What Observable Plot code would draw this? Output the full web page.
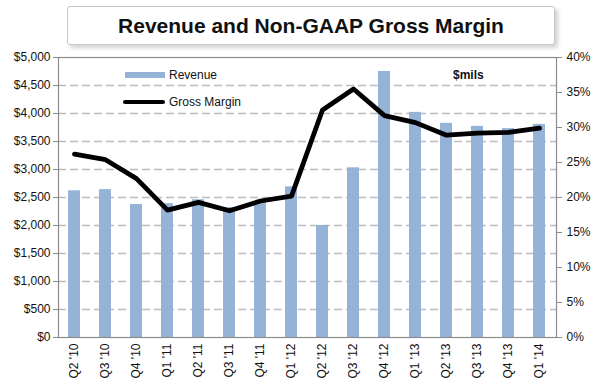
<!DOCTYPE html>
<html>
<head>
<meta charset="utf-8">
<script src="https://cdn.jsdelivr.net/npm/d3@7"></script>
<script src="https://cdn.jsdelivr.net/npm/@observablehq/plot@0.6"></script>
<style>
  html, body { margin: 0; padding: 0; background: #fff; }
  body { width: 600px; height: 388px; position: relative; overflow: hidden;
         font-family: "Liberation Sans", Arial, sans-serif; }
  #title { position: absolute; left: 67px; top: 6px; width: 488px; height: 39px;
           border: 1px solid #c8c8c8; border-radius: 3px; background: #fff;
           box-shadow: 3px 3px 4px rgba(0,0,0,0.18);
           display: flex; align-items: center; justify-content: center;
           font-weight: bold; font-size: 21px; color: #111; box-sizing: border-box; }
  #chart { position: absolute; left: 0; top: 50px; }
  .leg { position: absolute; font-size: 12px; color: #111; line-height: 12px; }
</style>
</head>
<body>
<div id="title">Revenue and Non-GAAP Gross Margin</div>
<div id="chart"></div>
<div class="leg" style="left:125px;top:72px;width:40px;height:6px;background:#95b3d7;"></div>
<div class="leg" style="left:169px;top:69px;">Revenue</div>
<div class="leg" style="left:123px;top:100px;width:42px;height:4px;background:#000;border-radius:2px;"></div>
<div class="leg" style="left:169px;top:96px;">Gross Margin</div>
<div class="leg" style="left:453px;top:69px;font-weight:bold;">$mils</div>
<script>
const quarters = ["Q2 '10","Q3 '10","Q4 '10","Q1 '11","Q2 '11","Q3 '11","Q4 '11","Q1 '12",
                  "Q2 '12","Q3 '12","Q4 '12","Q1 '13","Q2 '13","Q3 '13","Q4 '13","Q1 '14"];
const revenue = [2620, 2640, 2375, 2390, 2460, 2320, 2420, 2690, 2000, 3030, 4750, 4020, 3825, 3770, 3730, 3805];
const grossMargin = [26.2, 25.4, 22.7, 18.2, 19.3, 18.1, 19.5, 20.2, 32.5, 35.5, 31.7, 30.7, 28.9, 29.2, 29.3, 29.9];
const revTicks = [0, 500, 1000, 1500, 2000, 2500, 3000, 3500, 4000, 4500, 5000];
const gridTicks = [500, 1000, 1500, 2000, 2500, 3000, 3500, 4000, 4500];
const pctTicks = [0, 5, 10, 15, 20, 25, 30, 35, 40];
const revMax = 5000, pctMax = 40;

const data = quarters.map((q, i) => ({q, rev: revenue[i], gm: grossMargin[i]}));
const toRev = p => p / pctMax * revMax;

const plot = Plot.plot({
  width: 600,
  height: 338,
  marginTop: 7,
  marginBottom: 51,
  marginLeft: 58,
  marginRight: 44,
  style: {fontFamily: "'Liberation Sans', Arial, sans-serif", fontSize: "12px", color: "#111", background: "transparent"},
  x: {type: "band", domain: quarters, paddingInner: 0.6, paddingOuter: 0.3, label: null},
  y: {domain: [0, revMax], label: null},
  marks: [
    Plot.ruleY(gridTicks, {stroke: "#bdbdbd", strokeWidth: 1.5, strokeDasharray: "8,4"}),
    Plot.barY(data, {x: "q", y: "rev", fill: "#95b3d7"}),
    Plot.line(data, {x: "q", y: d => toRev(d.gm), stroke: "#000", strokeWidth: 4.8, strokeLinejoin: "round", strokeLinecap: "round"}),
    Plot.frame({stroke: "#8c8c8c", strokeWidth: 1.2}),
    Plot.axisY(revTicks, {anchor: "left", tickSize: 5, tickPadding: 3, stroke: "#8c8c8c",
      tickFormat: d => "$" + d3.format(",")(d), label: null}),
    Plot.axisY(pctTicks.map(toRev), {anchor: "right", tickSize: 5, tickPadding: 5, stroke: "#8c8c8c",
      tickFormat: d => Math.round(d / revMax * pctMax) + "%", label: null}),
    Plot.axisX({tickSize: 0, tickPadding: 6, tickRotate: -90, label: null})
  ]
});
document.getElementById("chart").appendChild(plot);
</script>
</body>
</html>
